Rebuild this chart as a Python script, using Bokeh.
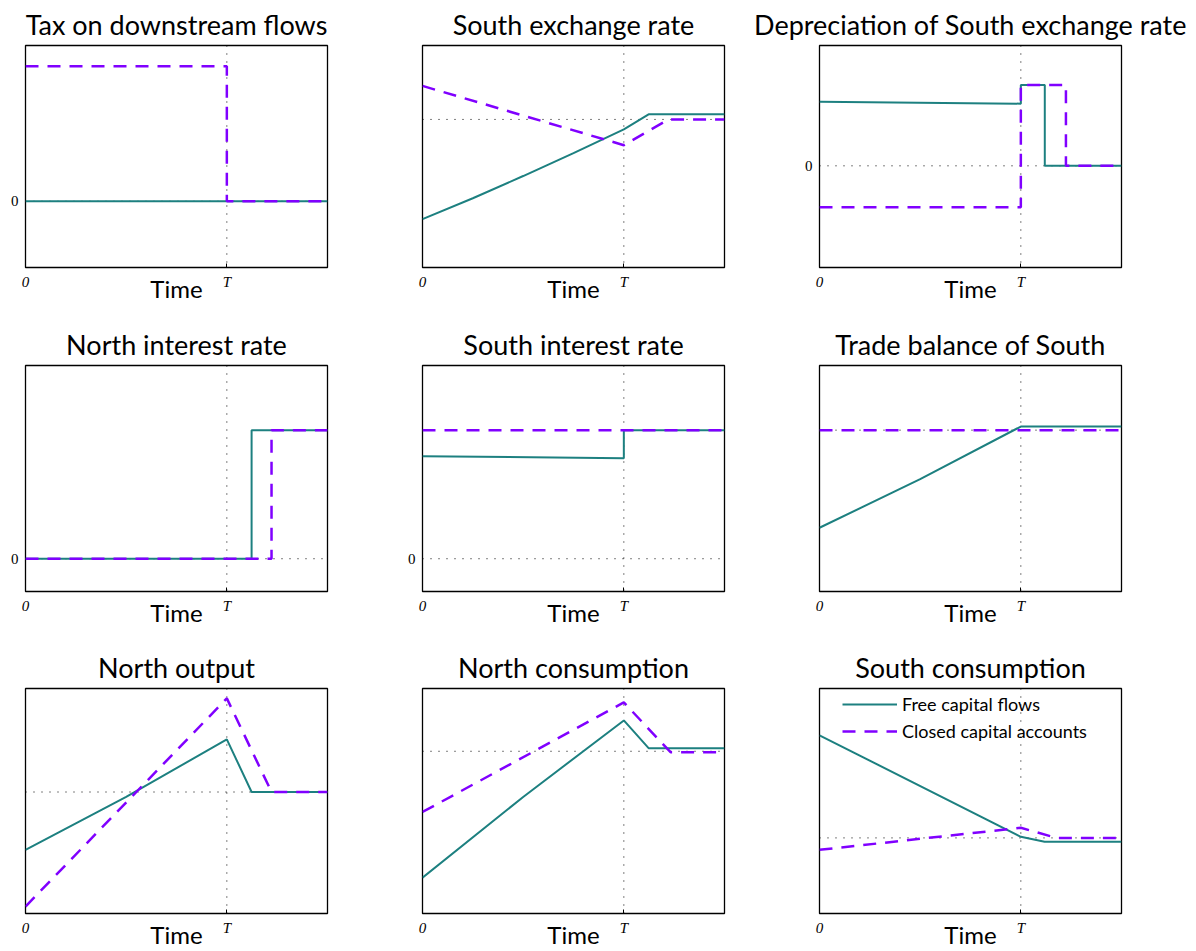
from bokeh.plotting import figure
from bokeh.layouts import column, row
from bokeh.models import Range1d, FixedTicker, Span, Legend, LegendItem
from bokeh.embed import file_html
from bokeh.resources import INLINE

# ---------------- data ----------------
T = 1.0
T_END = 1.5
TIME_TICKS = [0, 1]
TIME_TICK_LABELS = ["0", "T"]
LEGEND_LABELS = ["Free capital flows", "Closed capital accounts"]

titles = ["Tax on downstream flows", "South exchange rate", "Depreciation of South exchange rate",
          "North interest rate", "South interest rate", "Trade balance of South",
          "North output", "North consumption", "South consumption"]

# 1 Tax on downstream flows
tax_free_t = [0, 1.5]
tax_free_y = [0, 0]
tax_closed_t = [0, 1.0, 1.0, 1.5]
tax_closed_y = [1.0, 1.0, 0, 0]
tax_ss = 0
tax_yrange = (-0.49, 1.153)

# 2 South exchange rate
ser_free_t = [0, 0.25, 0.5, 0.75, 1.0, 1.123, 1.5]
ser_free_y = [0.218, 0.312, 0.412, 0.515, 0.622, 0.690, 0.690]
ser_closed_t = [0, 1.0, 1.222, 1.5]
ser_closed_y = [0.818, 0.551, 0.667, 0.667]
ser_ss = 0.667
ser_yrange = (0, 1)

# 3 Depreciation of South exchange rate
dep_free_t = [0, 1.0, 1.0, 1.119, 1.119, 1.5]
dep_free_y = [0.289, 0.280, 0.364, 0.364, 0, 0]
dep_closed_t = [0, 1.0, 1.0, 1.224, 1.224, 1.5]
dep_closed_y = [-0.187, -0.187, 0.364, 0.364, 0, 0]
dep_ss = 0
dep_yrange = (-0.458, 0.542)

# 4 North interest rate
nir_free_t = [0, 1.123, 1.123, 1.5]
nir_free_y = [0, 0, 0.569, 0.569]
nir_closed_t = [0, 1.222, 1.222, 1.5]
nir_closed_y = [0, 0, 0.569, 0.569]
nir_ss = 0
nir_yrange = (-0.145, 0.855)

# 5 South interest rate
sir_free_t = [0, 1.0, 1.0, 1.5]
sir_free_y = [0.454, 0.445, 0.569, 0.569]
sir_closed_t = [0, 1.5]
sir_closed_y = [0.569, 0.569]
sir_ss = 0
sir_yrange = (-0.145, 0.855)

# 6 Trade balance of South
tb_free_t = [0, 0.5, 1.0, 1.5]
tb_free_y = [0.282, 0.497, 0.730, 0.730]
tb_closed_t = [0, 1.5]
tb_closed_y = [0.714, 0.714]
tb_ss = 0.714
tb_yrange = (0, 1)

# 7 North output
no_free_t = [0, 0.5, 1.0, 1.123, 1.5]
no_free_y = [0.283, 0.518, 0.774, 0.540, 0.540]
no_closed_t = [0, 1.0, 1.222, 1.5]
no_closed_y = [0.031, 0.956, 0.540, 0.540]
no_ss = 0.540
no_yrange = (0, 1)

# 8 North consumption
nc_free_t = [0, 0.5, 1.0, 1.123, 1.5]
nc_free_y = [0.159, 0.518, 0.858, 0.735, 0.735]
nc_closed_t = [0, 1.0, 1.232, 1.5]
nc_closed_y = [0.451, 0.938, 0.717, 0.717]
nc_ss = 0.721
nc_yrange = (0, 1)

# 9 South consumption
sc_free_t = [0, 1.0, 1.118, 1.5]
sc_free_y = [0.792, 0.341, 0.319, 0.319]
sc_closed_t = [0, 1.0, 1.177, 1.5]
sc_closed_y = [0.283, 0.381, 0.336, 0.336]
sc_ss = 0.336
sc_yrange = (0, 1)

panels = [
    (tax_free_t, tax_free_y, tax_closed_t, tax_closed_y, tax_ss, tax_yrange, True),
    (ser_free_t, ser_free_y, ser_closed_t, ser_closed_y, ser_ss, ser_yrange, False),
    (dep_free_t, dep_free_y, dep_closed_t, dep_closed_y, dep_ss, dep_yrange, True),
    (nir_free_t, nir_free_y, nir_closed_t, nir_closed_y, nir_ss, nir_yrange, True),
    (sir_free_t, sir_free_y, sir_closed_t, sir_closed_y, sir_ss, sir_yrange, True),
    (tb_free_t, tb_free_y, tb_closed_t, tb_closed_y, tb_ss, tb_yrange, False),
    (no_free_t, no_free_y, no_closed_t, no_closed_y, no_ss, no_yrange, False),
    (nc_free_t, nc_free_y, nc_closed_t, nc_closed_y, nc_ss, nc_yrange, False),
    (sc_free_t, sc_free_y, sc_closed_t, sc_closed_y, sc_ss, sc_yrange, False),
]

# ---------------- style ----------------
TEAL = "#1d8080"
PURPLE = "#8000ff"
FONT = "Lato"
SERIF = "Liberation Serif"

col_w = [350, 395, 451]
col_bl = [25, 72, 74]
col_br = [23, 21, 75]
row_h = [320, 320, 311]
row_bt = [42, 44, 48]
row_bb = [53, 49, 37]


def make_panel(i):
    ft, fy, ct, cy, ss, yr, zero_tick = panels[i]
    r, c = divmod(i, 3)
    p = figure(width=col_w[c], height=row_h[r], output_backend="svg", toolbar_location=None,
               x_range=Range1d(0, T_END), y_range=Range1d(*yr),
               min_border_left=col_bl[c], min_border_right=col_br[c],
               min_border_top=row_bt[r], min_border_bottom=row_bb[r],
               title=titles[i])
    p.title.align = "center"
    p.title.text_font = FONT
    p.title.text_font_size = "27px"
    p.title.text_font_style = "normal"
    p.title.text_color = "black"
    p.title.standoff = 10
    p.grid.visible = False
    p.outline_line_color = "black"
    p.outline_line_width = 1.3
    p.outline_line_alpha = 1.0
    p.border_fill_color = "white"
    p.background_fill_color = "white"

    xa = p.xaxis[0]
    xa.ticker = FixedTicker(ticks=TIME_TICKS)
    xa.major_label_overrides = dict(zip(TIME_TICKS, TIME_TICK_LABELS))
    xa.major_label_text_font = SERIF
    xa.major_label_text_font_style = "italic"
    xa.major_label_text_font_size = "15px"
    xa.major_label_text_color = "black"
    xa.major_label_standoff = 6
    xa.major_tick_in = 4
    xa.major_tick_out = 0
    xa.minor_tick_out = 0
    xa.minor_tick_in = 0
    xa.major_tick_line_color = "black"
    xa.axis_line_color = None
    xa.axis_label = "Time"
    xa.axis_label_text_font = FONT
    xa.axis_label_text_font_size = "24px"
    xa.axis_label_text_font_style = "normal"
    xa.axis_label_text_color = "black"
    xa.axis_label_standoff = -19

    ya = p.yaxis[0]
    ya.ticker = FixedTicker(ticks=[0] if zero_tick else [])
    ya.major_label_text_font = SERIF
    ya.major_label_text_font_size = "15px"
    ya.major_label_text_color = "black"
    ya.major_label_standoff = 7
    ya.major_tick_in = 0
    ya.major_tick_out = 0
    ya.minor_tick_out = 0
    ya.axis_line_color = None

    for span in (Span(location=T, dimension="height"), Span(location=ss, dimension="width")):
        span.line_color = "black"
        span.line_width = 1
        span.line_dash = "1 7"
        span.level = "underlay"
        p.add_layout(span)

    r1 = p.line(ft, fy, line_color=TEAL, line_width=2)
    r2 = p.line(ct, cy, line_color=PURPLE, line_width=2.5, line_dash="13 9")

    if i == 8:
        leg = Legend(items=[LegendItem(label=LEGEND_LABELS[0], renderers=[r1]),
                            LegendItem(label=LEGEND_LABELS[1], renderers=[r2])],
                     location=(23, 171))
        leg.background_fill_alpha = 0
        leg.border_line_alpha = 0
        leg.glyph_width = 55
        leg.glyph_height = 20
        leg.label_height = 20
        leg.label_standoff = 5
        leg.padding = 0
        leg.margin = 0
        leg.spacing = 5
        leg.label_text_font = FONT
        leg.label_text_font_size = "18px"
        leg.label_text_color = "black"
        p.add_layout(leg)
    return p


figs = [make_panel(i) for i in range(9)]
layout = column(row(*figs[0:3]), row(*figs[3:6]), row(*figs[6:9]))

open("out.html", "w").write(file_html(layout, INLINE))
